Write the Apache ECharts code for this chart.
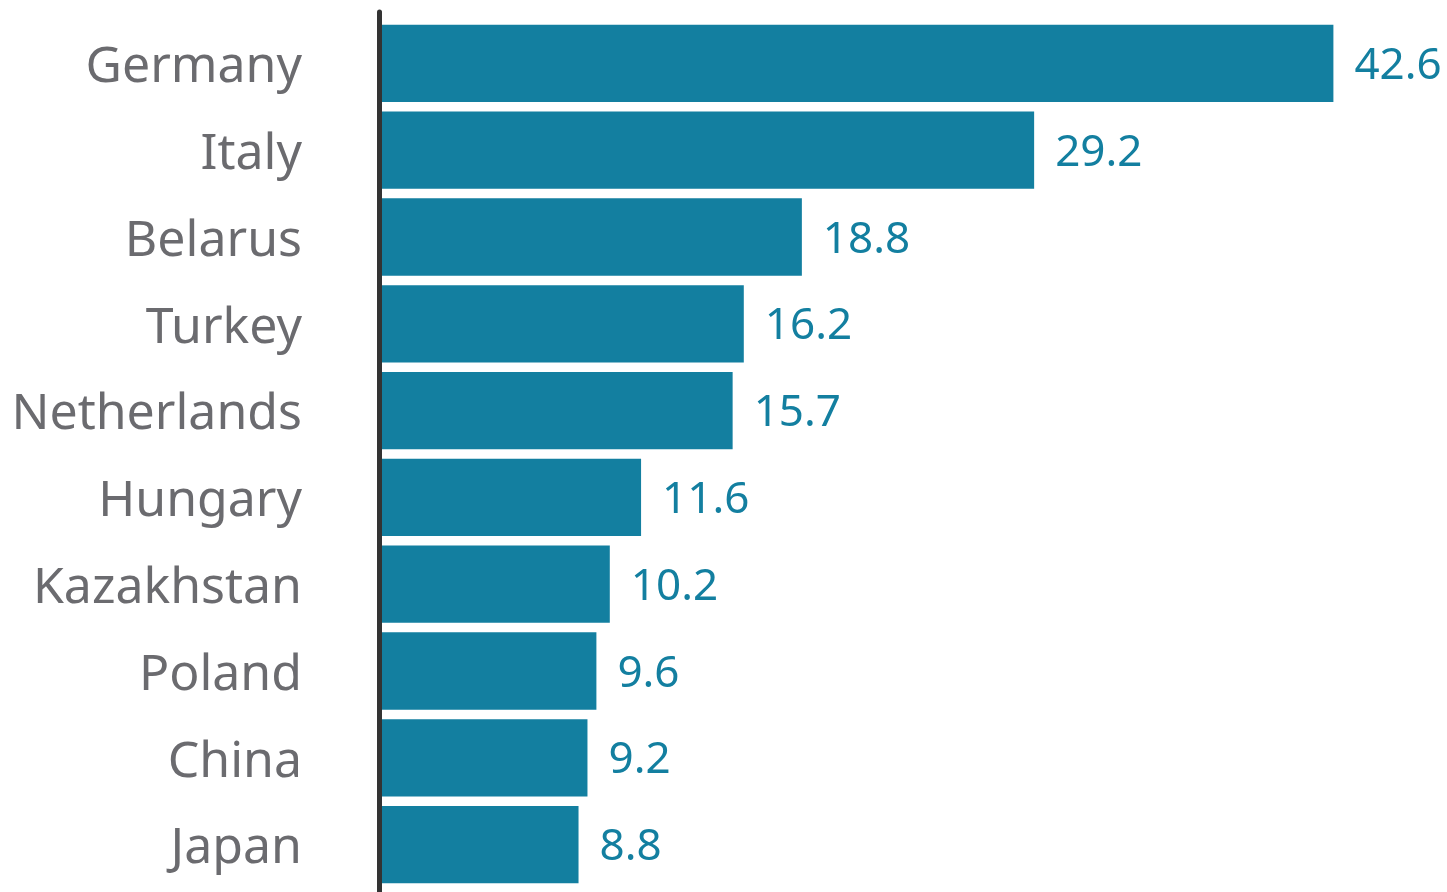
<!DOCTYPE html>
<html>
<head>
<meta charset="utf-8">
<script src="https://cdn.jsdelivr.net/npm/echarts@6/dist/echarts.min.js"></script>
<style>
html, body { margin: 0; padding: 0; background: #fff; }
#chart { width: 1447px; height: 892px; }
</style>
</head>
<body>
<div id="chart"></div>
<script>
// top to bottom as shown
const countries = ['Germany', 'Italy', 'Belarus', 'Turkey', 'Netherlands', 'Hungary', 'Kazakhstan', 'Poland', 'China', 'Japan'];
const values = [42.6, 29.2, 18.8, 16.2, 15.7, 11.6, 10.2, 9.6, 9.2, 8.8];

const barColor = '#137FA0';
const fontFamily = '"Noto Sans", "Open Sans", sans-serif';

const myChart = echarts.init(document.getElementById('chart'));
const option = {
    animation: false,
    grid: [
        { left: 382, right: 60, top: 20, bottom: 4 },
        // only holds the long vertical axis line
        { left: 379.5, right: 60, top: 12, bottom: 0 }
    ],
    xAxis: [
        {
            type: 'value', gridIndex: 0, min: 0, max: 45,
            show: false
        },
        {
            type: 'value', gridIndex: 1, min: 0, max: 1,
            show: false
        }
    ],
    yAxis: [
        {
            type: 'category',
            gridIndex: 0,
            data: countries,
            inverse: true,
            axisLine: { show: false },
            axisTick: { show: false },
            axisLabel: {
                margin: 80,
                formatter: v => '{n|' + v + '}',
                rich: {
                    n: {
                        fontSize: 50,
                        color: '#6B6B6F',
                        fontFamily: fontFamily,
                        padding: [9, 0, 0, 0]
                    }
                }
            }
        },
        {
            type: 'value',
            gridIndex: 1,
            axisLine: { show: true, lineStyle: { color: '#333333', width: 5 } },
            axisTick: { show: false },
            axisLabel: { show: false },
            splitLine: { show: false }
        }
    ],
    series: [
        {
            type: 'bar',
            xAxisIndex: 0,
            yAxisIndex: 0,
            data: values,
            barCategoryGap: '11%',
            itemStyle: { color: barColor },
            label: {
                show: true,
                position: 'right',
                distance: 21,
                offset: [0, 3],
                fontSize: 44,
                color: barColor,
                fontFamily: fontFamily,
                formatter: p => p.value.toFixed(1)
            }
        }
    ]
};
myChart.setOption(option);
</script>
</body>
</html>
